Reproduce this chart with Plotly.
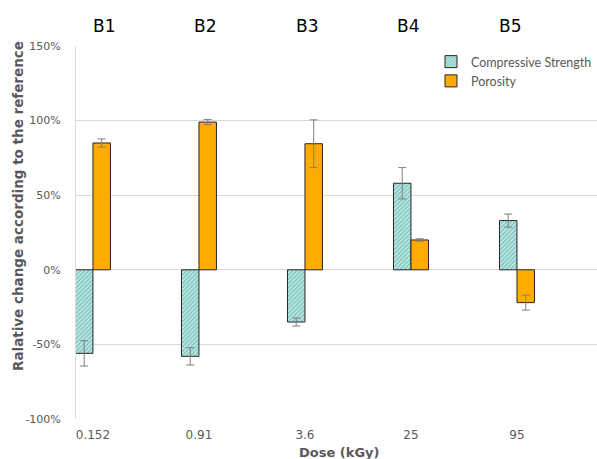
import plotly.graph_objects as go

# Dose categories and batch labels
doses = ["0.152", "0.91", "3.6", "25", "95"]
batches = ["B1", "B2", "B3", "B4", "B5"]

# Relative change (%) with respect to the reference, and error half-widths
compressive = [-56, -58, -35, 58, 33]
compressive_err = [8.5, 5.8, 2.7, 10.5, 4.4]
porosity = [85, 99, 84.5, 20, -22]
porosity_err = [2.7, 1.7, 16, 0.8, 5]

W, H = 597, 459
L, R, T, B = 76, 0, 46, 40
plot_w = W - L - R
plot_h = H - T - B

grey_txt = "#595959"
err_style = dict(type="data", thickness=1, width=4, color="#7f7f7f")


def px_x(px):
    return (px - L) / plot_w


def px_y(py):
    return 1 - (py - T) / plot_h


fig = go.Figure()
fig.add_trace(go.Bar(
    name="Compressive Strength", x=doses, y=compressive,
    error_y=dict(array=compressive_err, **err_style),
    marker=dict(
        color="#ffffff",
        line=dict(color="#262626", width=1),
        pattern=dict(shape="/", fgcolor="#2f9e97", bgcolor="#c8ebe7",
                     size=3, solidity=0.5),
    ),
))
fig.add_trace(go.Bar(
    name="Porosity", x=doses, y=porosity,
    error_y=dict(array=porosity_err, **err_style),
    marker=dict(color="#ffab00", line=dict(color="#262626", width=1)),
))

# Batch names above the plot area
batch_px = [103.6, 204.5, 306.5, 408, 510]
for name, px in zip(batches, batch_px):
    fig.add_annotation(
        text=name, xref="paper", yref="paper",
        x=px_x(px), y=px_y(25.5),
        showarrow=False, xanchor="center", yanchor="middle",
        font=dict(family="DejaVu Sans", size=17, color="#000000"),
    )

# Axis titles
fig.add_annotation(
    text="<b>Ralative change according to the reference</b>",
    xref="paper", yref="paper", x=px_x(18), y=px_y(206),
    textangle=-90, showarrow=False, xanchor="center", yanchor="middle",
    font=dict(family="DejaVu Sans", size=13.5, color=grey_txt),
)
fig.add_annotation(
    text="<b>Dose (kGy)</b>",
    xref="paper", yref="paper", x=px_x(339), y=px_y(452),
    showarrow=False, xanchor="center", yanchor="middle",
    font=dict(family="DejaVu Sans", size=13, color=grey_txt),
)

fig.update_layout(
    width=W, height=H,
    margin=dict(l=L, r=R, t=T, b=B, pad=0),
    paper_bgcolor="white", plot_bgcolor="white",
    barmode="group", bargap=0.67, bargroupgap=0,
    font=dict(family="DejaVu Sans", size=11, color=grey_txt),
    showlegend=True,
    legend=dict(
        x=1, y=px_y(47), xanchor="right", yanchor="top",
        bgcolor="rgba(0,0,0,0)", borderwidth=0,
        font=dict(family="Lato", size=12.5, color=grey_txt),
        itemwidth=30, tracegroupgap=2,
    ),
    xaxis=dict(
        type="category", range=[-0.16, 4.755],
        showgrid=False, showline=False, zeroline=False,
        ticks="", ticklabelstandoff=7,
        tickfont=dict(size=12, color=grey_txt),
    ),
    yaxis=dict(
        range=[-100, 150], tickvals=[-100, -50, 0, 50, 100, 150],
        ticktext=["-100%", "-50%", "0%", "50%", "100%", "150%"],
        showgrid=True, gridcolor="#d9d9d9", gridwidth=1,
        zeroline=True, zerolinecolor="#d9d9d9", zerolinewidth=1,
        showline=True, linecolor="#d9d9d9", linewidth=1,
        ticks="", ticklabelstandoff=12,
        tickfont=dict(size=11, color=grey_txt),
    ),
)

fig.write_html("out.html")
